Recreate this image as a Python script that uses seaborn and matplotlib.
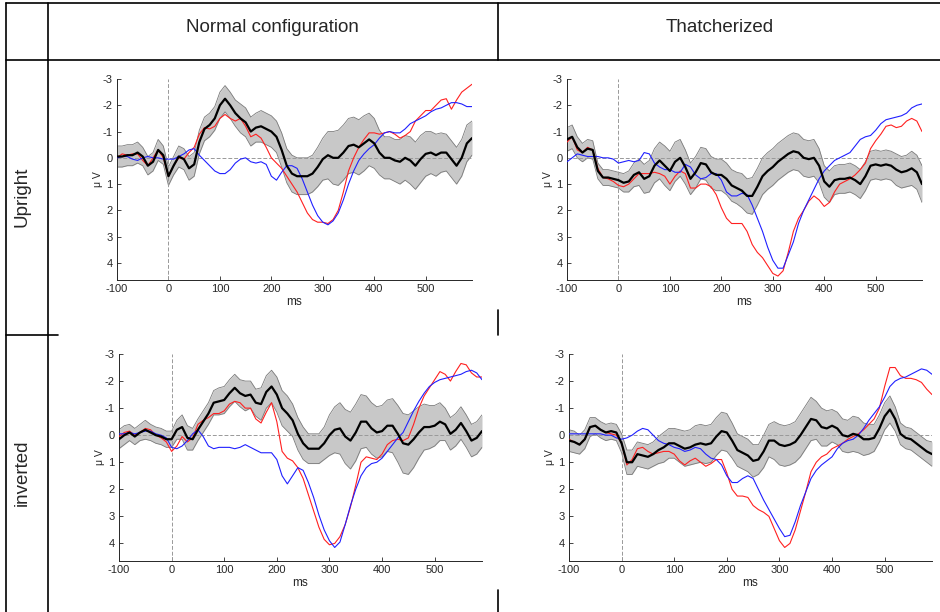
import numpy as np
import pandas as pd
import matplotlib.pyplot as plt
import seaborn as sns
from matplotlib.lines import Line2D

sns.set_style('ticks')
plt.rcParams['font.family'] = ['Liberation Sans', 'DejaVu Sans']

# time axis (ms), one reading every 10 ms
ms = list(range(-100, 600, 10))

# ---- Upright / Normal configuration ----
tl_black = [-0.05, -0.05, -0.1, -0.1, -0.2, -0.05, 0.3, 0.15, -0.3, -0.1,
            0.7, 0.3, -0.05, 0.05, 0.4, 0.25, -0.6, -1.1, -1.25, -1.5,
            -2.0, -2.25, -2.0, -1.7, -1.5, -1.35, -1.0, -1.15, -1.2, -1.1,
            -1.0, -0.8, -0.3, 0.3, 0.6, 0.7, 0.7, 0.7, 0.6, 0.35,
            0.05, -0.1, 0.0, 0.0, -0.2, -0.45, -0.5, -0.4, -0.55, -0.7,
            -0.55, -0.2, 0.0, 0.0, 0.1, 0.15, 0.0, 0.1, 0.3, 0.05,
            -0.15, -0.2, -0.1, -0.2, -0.2, 0.05, 0.3, 0.0, -0.55, -0.75]
tl_hw = [0.4, 0.4, 0.4, 0.4, 0.4, 0.35, 0.35, 0.35, 0.4, 0.35,
         0.35, 0.35, 0.4, 0.4, 0.45, 0.45, 0.45, 0.45, 0.45, 0.45,
         0.5, 0.5, 0.5, 0.5, 0.55, 0.55, 0.55, 0.55, 0.6, 0.6,
         0.6, 0.6, 0.65, 0.65, 0.7, 0.7, 0.7, 0.7, 0.7, 0.75,
         0.8, 0.9, 1.0, 1.05, 1.05, 1.05, 1.05, 1.05, 1.05, 1.0,
         0.95, 0.85, 0.8, 0.8, 0.8, 0.85, 0.85, 0.9, 0.9, 0.9,
         0.85, 0.8, 0.8, 0.75, 0.7, 0.7, 0.7, 0.7, 0.7, 0.65]
tl_red = [0.0, -0.15, -0.1, -0.15, -0.15, 0.1, 0.3, 0.0, -0.3, 0.0,
          0.7, 0.3, 0.0, 0.05, -0.2, -0.4, -0.9, -1.15, -1.1, -1.2,
          -1.5, -1.65, -1.5, -1.4, -1.5, -1.2, -0.8, -0.9, -0.75, -0.4,
          0.0, 0.2, 0.4, 0.7, 1.0, 1.3, 1.7, 2.1, 2.35, 2.45,
          2.45, 2.5, 2.35, 2.0, 1.3, 0.5, 0.0, -0.4, -0.7, -0.95,
          -0.95, -0.9, -0.95, -1.0, -0.9, -0.75, -0.85, -1.0, -1.4, -1.6,
          -1.8, -1.8, -2.0, -2.2, -2.25, -1.85, -2.2, -2.5, -2.65, -2.8]
tl_blue = [0.0, -0.05, -0.05, 0.05, 0.1, 0.0, -0.05, 0.0, 0.0, 0.05,
           0.05, 0.05, -0.05, -0.15, -0.3, -0.35, -0.1, 0.1, 0.3, 0.5,
           0.6, 0.6, 0.45, 0.2, 0.05, 0.0, 0.15, 0.2, 0.15, 0.25,
           0.7, 0.85, 0.55, 0.3, 0.3, 0.4, 0.8, 1.3, 1.8, 2.2,
           2.45, 2.55, 2.4, 2.1, 1.6, 1.0, 0.5, 0.1, -0.15, -0.35,
           -0.5, -0.75, -0.95, -1.0, -0.95, -0.95, -1.1, -1.3, -1.4, -1.5,
           -1.6, -1.75, -1.85, -1.9, -2.0, -2.1, -2.1, -2.05, -1.95, -1.95]

# ---- Upright / Thatcherized ----
tr_black = [-0.7, -0.8, -0.4, -0.2, -0.35, -0.3, 0.5, 0.75, 0.75, 0.8,
            0.85, 0.95, 0.9, 0.65, 0.55, 0.8, 0.7, 0.3, 0.1, 0.3,
            0.5, 0.15, 0.0, 0.35, 0.8, 0.55, 0.2, 0.25, 0.55, 0.65,
            0.65, 0.8, 1.05, 1.15, 1.25, 1.45, 1.45, 1.1, 0.7, 0.5,
            0.35, 0.15, 0.0, -0.15, -0.25, -0.2, 0.0, 0.05, 0.0, 0.3,
            0.9, 1.1, 0.85, 0.8, 0.8, 0.75, 0.85, 1.0, 0.7, 0.3,
            0.25, 0.3, 0.25, 0.3, 0.45, 0.55, 0.5, 0.4, 0.55, 1.0]
tr_hw = [0.45, 0.45, 0.4, 0.35, 0.35, 0.35, 0.3, 0.3, 0.3, 0.3,
         0.3, 0.35, 0.4, 0.45, 0.5, 0.55, 0.6, 0.65, 0.7, 0.75,
         0.75, 0.75, 0.7, 0.65, 0.6, 0.6, 0.6, 0.6, 0.6, 0.6,
         0.6, 0.6, 0.6, 0.6, 0.65, 0.65, 0.7, 0.7, 0.7, 0.7,
         0.7, 0.7, 0.7, 0.7, 0.7, 0.7, 0.7, 0.7, 0.7, 0.65,
         0.6, 0.6, 0.55, 0.55, 0.55, 0.55, 0.55, 0.55, 0.55, 0.55,
         0.55, 0.55, 0.55, 0.55, 0.6, 0.6, 0.6, 0.65, 0.65, 0.7]
tr_red = [-0.6, -0.8, -0.3, -0.2, -0.4, -0.3, 0.4, 0.75, 0.8, 0.9,
          1.05, 1.1, 1.0, 0.8, 0.6, 0.6, 0.6, 0.55, 0.6, 0.7,
          1.0, 0.7, 0.5, 0.6, 1.15, 1.15, 1.0, 1.0, 1.1, 1.4,
          1.9, 2.3, 2.5, 2.5, 2.5, 2.8, 3.3, 3.6, 3.8, 4.1,
          4.4, 4.5, 4.3, 3.6, 2.8, 2.3, 2.0, 1.65, 1.45, 1.6,
          1.85, 1.7, 1.3, 1.0, 0.9, 0.8, 0.65, 0.45, 0.2, -0.35,
          -0.65, -0.9, -1.2, -1.25, -1.15, -1.2, -1.4, -1.5, -1.4, -1.0]
tr_blue = [0.15, 0.0, -0.15, -0.1, -0.05, -0.05, -0.05, 0.0, 0.0, 0.05,
           0.2, 0.15, 0.1, 0.15, 0.1, -0.2, -0.15, 0.2, 0.35, 0.45,
           0.45, 0.55, 0.55, 0.25, 0.35, 0.65, 0.8, 0.75, 0.6, 0.6,
           0.85, 1.3, 1.45, 1.45, 1.35, 1.4, 1.8, 2.3, 2.8, 3.4,
           3.9, 4.2, 4.2, 3.7, 3.2, 2.5, 2.0, 1.6, 1.2, 0.8,
           0.5, 0.3, 0.1, 0.0, -0.1, -0.2, -0.45, -0.7, -0.8, -0.85,
           -1.05, -1.3, -1.45, -1.5, -1.55, -1.6, -1.7, -1.9, -2.0, -2.05]

# ---- inverted / Normal configuration ----
bl_black = [0.15, 0.0, -0.1, 0.05, -0.1, -0.2, -0.1, 0.0, 0.05, 0.15,
            0.15, -0.2, -0.3, 0.1, 0.15, -0.2, -0.5, -0.8, -1.2, -1.25,
            -1.3, -1.55, -1.75, -1.55, -1.45, -1.5, -1.2, -1.15, -1.6, -1.8,
            -1.5, -1.0, -0.8, -0.55, -0.05, 0.3, 0.5, 0.5, 0.5, 0.3,
            0.0, -0.2, -0.25, 0.05, 0.2, -0.1, -0.5, -0.5, -0.25, -0.1,
            -0.15, -0.35, -0.35, -0.05, 0.3, 0.35, 0.15, -0.1, -0.3, -0.3,
            -0.35, -0.5, -0.4, -0.05, -0.2, -0.45, -0.15, 0.2, 0.1, -0.15]
bl_hw = [0.35, 0.35, 0.3, 0.3, 0.3, 0.35, 0.3, 0.3, 0.3, 0.3,
         0.3, 0.35, 0.45, 0.45, 0.4, 0.4, 0.4, 0.4, 0.45, 0.5,
         0.5, 0.5, 0.5, 0.5, 0.55, 0.5, 0.5, 0.6, 0.6, 0.6,
         0.65, 0.65, 0.65, 0.6, 0.6, 0.6, 0.55, 0.55, 0.55, 0.6,
         0.75, 0.85, 0.95, 1.0, 1.05, 1.05, 1.0, 0.95, 0.95, 0.95,
         0.95, 0.95, 1.0, 1.05, 1.1, 1.1, 1.05, 0.95, 0.85, 0.8,
         0.75, 0.7, 0.6, 0.6, 0.6, 0.6, 0.6, 0.6, 0.6, 0.6]
bl_red = [0.05, -0.1, -0.15, 0.0, -0.1, -0.25, -0.2, 0.0, 0.1, 0.25,
          0.6, 0.4, 0.05, 0.25, 0.1, -0.4, -0.55, -0.65, -0.8, -0.8,
          -0.9, -1.15, -1.25, -1.2, -1.0, -1.0, -0.6, -0.45, -0.85, -1.2,
          -0.5, 0.6, 0.85, 0.95, 1.2, 1.6, 2.2, 2.8, 3.4, 3.85,
          4.05, 4.0, 3.75, 3.3, 2.65, 1.85, 1.0, 0.8, 0.85, 0.9,
          0.7, 0.35, 0.2, 0.15, 0.2, 0.1, -0.4, -1.0, -1.45, -1.75,
          -2.05, -2.35, -2.25, -2.0, -2.35, -2.65, -2.6, -2.3, -2.15, -2.15]
bl_blue = [-0.05, -0.05, -0.1, -0.05, -0.1, -0.15, -0.15, -0.05, 0.0, 0.1,
           0.45, 0.5, 0.4, 0.2, -0.05, -0.2, 0.05, 0.4, 0.5, 0.45,
           0.45, 0.45, 0.5, 0.45, 0.35, 0.45, 0.55, 0.65, 0.65, 0.65,
           0.9, 1.5, 1.8, 1.5, 1.2, 1.3, 1.75, 2.3, 2.95, 3.5,
           3.9, 4.15, 3.95, 3.3, 2.6, 2.0, 1.5, 1.2, 1.05, 1.0,
           0.85, 0.6, 0.35, 0.1, -0.1, -0.5, -0.9, -1.25, -1.55, -1.8,
           -1.95, -2.05, -2.1, -2.15, -2.2, -2.25, -2.35, -2.4, -2.3, -2.05]

# ---- inverted / Thatcherized ----
br_black = [0.2, 0.25, 0.35, 0.15, -0.3, -0.35, -0.2, -0.1, -0.15, -0.1,
            0.3, 1.0, 1.0, 0.7, 0.75, 0.8, 0.7, 0.55, 0.45, 0.3,
            0.3, 0.4, 0.5, 0.45, 0.35, 0.3, 0.35, 0.3, 0.05, -0.15,
            -0.1, 0.2, 0.55, 0.65, 0.75, 0.95, 0.9, 0.6, 0.2, 0.2,
            0.35, 0.4, 0.35, 0.25, 0.0, -0.3, -0.6, -0.55, -0.3, -0.25,
            -0.35, -0.25, 0.0, 0.05, -0.05, 0.0, 0.15, 0.15, 0.1, -0.25,
            -0.7, -0.95, -0.6, -0.05, 0.1, 0.15, 0.3, 0.45, 0.6, 0.7]
br_hw = [0.4, 0.4, 0.35, 0.35, 0.35, 0.3, 0.3, 0.3, 0.3, 0.3,
         0.35, 0.45, 0.45, 0.45, 0.45, 0.45, 0.45, 0.5, 0.55, 0.55,
         0.55, 0.6, 0.65, 0.65, 0.7, 0.7, 0.7, 0.7, 0.7, 0.7,
         0.7, 0.65, 0.6, 0.6, 0.6, 0.6, 0.55, 0.6, 0.6, 0.7,
         0.75, 0.75, 0.75, 0.75, 0.8, 0.8, 0.8, 0.7, 0.7, 0.65,
         0.6, 0.6, 0.6, 0.6, 0.65, 0.65, 0.6, 0.55, 0.5, 0.5,
         0.5, 0.5, 0.45, 0.4, 0.4, 0.4, 0.4, 0.4, 0.4, 0.45]
br_red = [0.15, 0.25, 0.35, 0.15, -0.3, -0.35, -0.2, -0.1, -0.05, 0.0,
          0.3, 1.1, 0.9, 0.5, 0.45, 0.6, 0.7, 0.65, 0.6, 0.6,
          0.7, 0.95, 1.1, 0.95, 0.85, 1.0, 1.15, 1.05, 0.9, 0.9,
          1.4, 2.0, 2.25, 2.25, 2.3, 2.6, 2.75, 2.85, 3.0, 3.45,
          3.9, 4.15, 4.0, 3.5, 2.8, 2.1, 1.35, 1.0, 0.8, 0.7,
          0.5, 0.4, 0.3, 0.15, 0.05, -0.05, -0.2, -0.4, -0.6, -1.0,
          -1.8, -2.5, -2.5, -2.2, -2.1, -2.1, -2.05, -1.95, -1.7, -1.5]
br_blue = [-0.05, -0.05, -0.05, -0.05, -0.05, -0.05, -0.05, 0.0, 0.0, 0.1,
           0.15, 0.1, 0.0, -0.15, -0.25, -0.2, 0.0, 0.2, 0.3, 0.35,
           0.45, 0.5, 0.6, 0.55, 0.45, 0.5, 0.7, 0.85, 0.9, 1.1,
           1.5, 1.75, 1.75, 1.6, 1.5, 1.6, 2.0, 2.4, 2.75, 3.1,
           3.45, 3.75, 3.7, 3.2, 2.6, 2.1, 1.6, 1.3, 1.1, 0.95,
           0.8, 0.5, 0.3, 0.2, 0.15, 0.0, -0.25, -0.55, -0.8, -1.05,
           -1.4, -1.8, -2.0, -2.1, -2.15, -2.25, -2.35, -2.45, -2.4, -2.25]

col_titles = ['Normal configuration', 'Thatcherized']
row_titles = ['Upright', 'inverted']
xticks = [-100, 0, 100, 200, 300, 400, 500]
yticks = [-3, -2, -1, 0, 1, 2, 3, 4]

W, H = 940, 612
fig = plt.figure(figsize=(W / 100, H / 100), dpi=100)


def px(x0, y0, x1, y1):
    # pixel box -> figure fraction [left, bottom, width, height]
    return [x0 / W, 1 - y1 / H, (x1 - x0) / W, (y1 - y0) / H]


panels = [
    (px(117, 79, 472, 280), tl_black, tl_hw, tl_red, tl_blue),
    (px(567, 79, 922, 280), tr_black, tr_hw, tr_red, tr_blue),
    (px(119, 354, 482, 561), bl_black, bl_hw, bl_red, bl_blue),
    (px(569, 354, 932, 561), br_black, br_hw, br_red, br_blue),
]

for rect, black, hw, red, blue in panels:
    ax = fig.add_axes(rect)
    df = pd.DataFrame({'ms': ms, 'black': black, 'hw': hw, 'red': red, 'blue': blue})
    lo = df['black'] - df['hw']
    hi = df['black'] + df['hw']
    ax.fill_between(df['ms'], lo, hi, color='#c8c8c8', lw=0, zorder=1)
    ax.plot(df['ms'], lo, color='#7a7a7a', lw=0.6, zorder=2)
    ax.plot(df['ms'], hi, color='#7a7a7a', lw=0.6, zorder=2)
    ax.axhline(0, color='#999999', lw=0.7, ls=(0, (4, 2)), zorder=2)
    ax.axvline(0, color='#999999', lw=0.7, ls=(0, (4, 2)), zorder=2)
    sns.lineplot(data=df, x='ms', y='red', ax=ax, color='#ff2020', lw=0.8, zorder=3)
    sns.lineplot(data=df, x='ms', y='blue', ax=ax, color='#2020ff', lw=0.8, zorder=3)
    sns.lineplot(data=df, x='ms', y='black', ax=ax, color='black', lw=1.6, zorder=4)
    ax.set_xlim(-100, 590)
    ax.set_ylim(4.65, -3)
    ax.set_xticks(xticks)
    ax.set_yticks(yticks)
    ax.set_xticklabels([str(t) for t in xticks])
    ax.set_yticklabels([str(t) for t in yticks])
    ax.tick_params(direction='in', length=3, width=0.6, labelsize=8, pad=3)
    ax.set_xlabel('ms', fontsize=8.5, labelpad=1)
    ax.set_ylabel('μ V', fontsize=7.5, labelpad=0)
    ax.set_facecolor('none')
    sns.despine(ax=ax)
    for s in ['left', 'bottom']:
        ax.spines[s].set_linewidth(0.7)

# table grid lines (pixel coordinates)
segments = [
    ((6, 940), (3, 3)),
    ((6, 940), (60, 60)),
    ((6, 6), (3, 612)),
    ((48, 48), (3, 612)),
    ((498, 498), (3, 60)),
    ((498, 498), (310, 335)),
    ((498, 498), (590, 612)),
    ((6, 58), (335, 335)),
]
for xs, ys in segments:
    fig.add_artist(Line2D([x / W for x in xs], [1 - y / H for y in ys],
                          color='black', lw=1.2, transform=fig.transFigure))

fig.text(272 / W, 1 - 27 / H, col_titles[0], ha='center', va='center', fontsize=13.5)
fig.text(720 / W, 1 - 27 / H, col_titles[1], ha='center', va='center', fontsize=13.5)
fig.text(22 / W, 1 - 197 / H, row_titles[0], ha='center', va='center', fontsize=13.5, rotation=90)
fig.text(22 / W, 1 - 473 / H, row_titles[1], ha='center', va='center', fontsize=13.5, rotation=90)

fig.savefig('out.png', dpi=100)
